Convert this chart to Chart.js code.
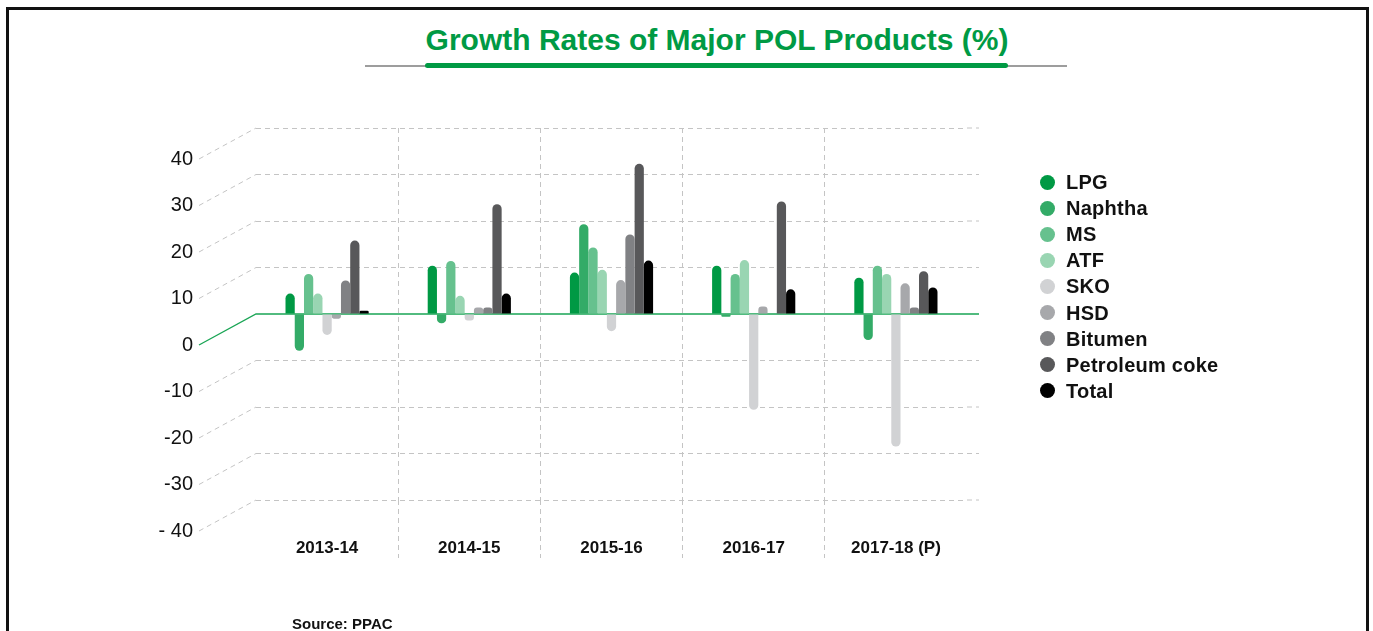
<!DOCTYPE html>
<html>
<head>
<meta charset="utf-8">
<script src="https://cdn.jsdelivr.net/npm/chart.js@4.4.1/dist/chart.umd.min.js"></script>
<style>
  html, body { margin: 0; padding: 0; background: #fff; overflow: hidden; }
  body { width: 1373px; height: 631px; position: relative; font-family: "Liberation Sans", Arial, sans-serif; }
  #frame { position: absolute; left: 6px; top: 7px; width: 1363px; height: 700px; box-sizing: border-box; border: 3px solid #111; }
  #title { position: absolute; left: 0; width: 1434px; top: 25px; text-align: center; font-weight: bold; font-size: 30px; line-height: 30px; color: #009a44; white-space: nowrap; }
  #rule-grey { position: absolute; left: 365px; top: 65px; width: 702px; height: 1.5px; background: #9d9d9d; }
  #rule-green { position: absolute; left: 425px; top: 63px; width: 583px; height: 5px; border-radius: 3px; background: #009a44; }
  #chart { position: absolute; left: 0; top: 0; }
  #legend { position: absolute; left: 0; top: 0; }
  .item { position: absolute; left: 1040px; height: 22px; line-height: 22px; white-space: nowrap; font-weight: bold; font-size: 20px; letter-spacing: 0.25px; color: #111; }
  .dot { position: absolute; left: 0; top: 3.5px; width: 15px; height: 15px; border-radius: 50%; }
  .item span { position: absolute; left: 26px; top: 0; }
  #source { position: absolute; left: 292px; top: 616px; font-weight: bold; font-size: 15px; line-height: 15px; color: #111; white-space: nowrap; }
</style>
</head>
<body>
<div id="frame"></div>
<div id="title">Growth Rates of Major POL Products (%)</div>
<div id="rule-grey"></div>
<div id="rule-green"></div>
<canvas id="chart" width="1373" height="631"></canvas>
<div id="legend"></div>
<div id="source">Source: PPAC</div>
<script>
// Fiscal years on the category axis
const categories = ['2013-14', '2014-15', '2015-16', '2016-17', '2017-18 (P)'];

// Products, in the order they are drawn inside each year
const products = ['LPG', 'Naphtha', 'MS', 'ATF', 'SKO', 'HSD', 'Bitumen', 'Petroleum coke', 'Total'];

// Growth rates (%) per product, one value per fiscal year
const lpg     = [4.4, 10.4, 8.9, 10.4, 7.8];
const naphtha = [-7.9, -2.0, 19.3, -0.6, -5.6];
const ms      = [8.6, 11.4, 14.3, 8.6, 10.4];
const atf     = [4.4, 3.9, 9.5, 11.6, 8.6];
const sko     = [-4.5, -1.4, -3.7, -20.6, -28.5];
const hsd     = [-1.0, 1.4, 7.3, 1.6, 6.6];
const bitumen = [7.2, 1.4, 17.1, 0, 1.4];
const petcoke = [15.8, 23.6, 32.3, 24.2, 9.2];
const total   = [0.7, 4.4, 11.5, 5.3, 5.7];

// Value axis ticks and the text shown for each
const yTickValues = [-40, -30, -20, -10, 0, 10, 20, 30, 40];
const yTickLabels = ['- 40', '-30', '-20', '-10', '0', '10', '20', '30', '40'];

const series = [lpg, naphtha, ms, atf, sko, hsd, bitumen, petcoke, total];
const colors = ['#009944', '#33ab67', '#66c18e', '#99d5b2', '#d1d2d4', '#a7a8ab', '#808184', '#58585a', '#000000'];

const FONT = '"Liberation Sans", Arial, sans-serif';
const GRID = '#c4c4c4';
const ZERO = '#1aa555';
const DASH = [5, 4];
const DEPTH_X = 57;   // horizontal shift of the front plane
const DEPTH_Y = 31;   // vertical shift of the front plane
const WALL_EXTRA = 12; // back-wall lines run a little past the last year

// Legend
const legend = document.getElementById('legend');
products.forEach((name, i) => {
  const row = document.createElement('div');
  row.className = 'item';
  row.style.top = (171 + i * 26.1) + 'px';
  const dot = document.createElement('div');
  dot.className = 'dot';
  dot.style.background = colors[i];
  const txt = document.createElement('span');
  txt.textContent = name;
  row.appendChild(dot);
  row.appendChild(txt);
  legend.appendChild(row);
});

// Slanted lines joining the front value labels to the back wall, the zero baseline,
// and the short run of each wall line past the last category
const depthLines = {
  id: 'depthLines',
  beforeDatasetsDraw(chart) {
    const { ctx, chartArea, scales } = chart;
    const y = scales.y;
    const L = chartArea.left, R = chartArea.right;
    ctx.save();
    y.ticks.forEach(t => {
      const py = y.getPixelForValue(t.value);
      ctx.beginPath();
      if (t.value === 0) {
        ctx.setLineDash([]);
        ctx.strokeStyle = ZERO;
        ctx.lineWidth = 1.3;
        ctx.moveTo(L - DEPTH_X, py + DEPTH_Y);
        ctx.lineTo(L, py);
        ctx.lineTo(R + WALL_EXTRA, py);
        ctx.stroke();
      } else {
        ctx.setLineDash(DASH);
        ctx.strokeStyle = GRID;
        ctx.lineWidth = 1;
        ctx.moveTo(L - DEPTH_X, py + DEPTH_Y);
        ctx.lineTo(L, py);
        ctx.stroke();
        ctx.beginPath();
        ctx.lineDashOffset = (R - L) % (DASH[0] + DASH[1]);
        ctx.moveTo(R, py);
        ctx.lineTo(R + WALL_EXTRA, py);
        ctx.stroke();
        ctx.lineDashOffset = 0;
      }
    });
    ctx.restore();
  }
};

const innerLine = c => (c.index > 0 && c.index < categories.length) ? GRID : 'rgba(0,0,0,0)';

new Chart(document.getElementById('chart'), {
  type: 'bar',
  data: {
    labels: categories,
    datasets: products.map((name, i) => ({
      label: name,
      data: series[i],
      backgroundColor: colors[i],
      borderWidth: 0,
      borderRadius: 5,
      borderSkipped: 'start',
      categoryPercentage: 0.585,
      barPercentage: 1
    }))
  },
  options: {
    responsive: false,
    animation: false,
    events: [],
    layout: { padding: { left: 0, right: 406, top: 128, bottom: 0 } },
    plugins: {
      legend: { display: false },
      tooltip: { enabled: false },
      title: { display: false }
    },
    scales: {
      x: {
        grid: {
          color: innerLine,
          tickColor: innerLine,
          lineWidth: 1,
          drawTicks: true,
          tickLength: 58,
          tickBorderDash: DASH
        },
        border: { display: false, dash: DASH },
        ticks: {
          color: '#111',
          padding: -20,
          font: { family: FONT, size: 17, weight: 'bold' }
        },
        afterFit(scale) { scale.height = 131; }
      },
      y: {
        min: -40,
        max: 40,
        grid: {
          color: c => (c.tick && c.tick.value === 0) ? 'rgba(0,0,0,0)' : GRID,
          drawTicks: false
        },
        border: { display: false, dash: DASH },
        ticks: {
          stepSize: 10,
          padding: 63,
          labelOffset: DEPTH_Y,
          color: '#111',
          font: { family: FONT, size: 20 },
          callback: v => yTickLabels[yTickValues.indexOf(v)]
        },
        afterFit(scale) { scale.width = 256; }
      }
    }
  },
  plugins: [depthLines]
});
</script>
</body>
</html>
